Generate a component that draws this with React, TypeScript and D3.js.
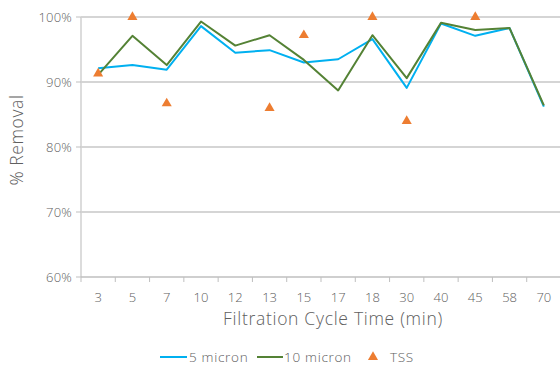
import React from "react";
import * as d3 from "d3";

const categories = ["3", "5", "7", "10", "12", "13", "15", "17", "18", "30", "40", "45", "58", "70"];
const micron5 = [92.1, 92.6, 91.9, 98.6, 94.5, 94.9, 93.0, 93.5, 96.6, 89.1, 99.0, 97.1, 98.3, 86.2];
const micron10 = [91.1, 97.1, 92.6, 99.3, 95.6, 97.2, 93.4, 88.7, 97.2, 90.6, 99.1, 98.0, 98.3, 86.4];
const tss: (number | null)[] = [91.3, 100, 86.7, null, null, 86.0, 97.2, null, 100, 84.0, null, 100, null, null];
const yTicks = [60, 70, 80, 90, 100];

const W = 560;
const H = 367;
const M = { left: 81, right: 561, top: 17, bottom: 277 };
const FONT = "'Open Sans', Lato, sans-serif";
const TEXT = "#606060";

export default function App() {
  const x = d3.scaleBand<string>().domain(categories).range([M.left, M.right]);
  const y = d3.scaleLinear().domain([60, 100]).range([M.bottom, M.top]);
  const cx = (c: string) => (x(c) ?? 0) + x.bandwidth() / 2;

  const line = d3
    .line<number>()
    .x((_, i) => cx(categories[i]))
    .y((v) => y(v));

  const tri = d3.symbol().type(d3.symbolTriangle).size(44)();

  return (
    <svg width={W} height={H} style={{ position: "absolute", left: 0, top: 0 }} fontFamily={FONT} fontWeight={300}>
      {/* gridlines */}
      {yTicks.slice(1).map((t) => (
        <line key={t} x1={M.left} x2={M.right} y1={y(t)} y2={y(t)} stroke="#ABABAB" strokeWidth={1} />
      ))}
      {/* y axis */}
      <line x1={M.left} x2={M.left} y1={M.top} y2={M.bottom} stroke="#D0D0D0" strokeWidth={1.5} />
      {yTicks.map((t) => (
        <g key={t}>
          <line x1={M.left - 5} x2={M.left} y1={y(t)} y2={y(t)} stroke="#BFBFBF" />
          <text x={72} y={y(t)} dy="0.35em" textAnchor="end" fontSize={13} letterSpacing={0.2} fill={TEXT}>
            {t}%
          </text>
        </g>
      ))}
      {/* x axis */}
      <line x1={M.left} x2={M.right} y1={M.bottom} y2={M.bottom} stroke="#BFBFBF" strokeWidth={1.5} />
      {categories.map((c) => (
        <line key={"t" + c} x1={x(c)} x2={x(c)} y1={M.bottom} y2={M.bottom + 5} stroke="#BFBFBF" />
      ))}
      {categories.map((c) => (
        <text key={c} x={cx(c)} y={297} dy="0.35em" textAnchor="middle" fontSize={13} fill={TEXT}>
          {c}
        </text>
      ))}
      <text x={333} y={319} dy="0.35em" textAnchor="middle" fontSize={17.5} letterSpacing={0.7} fill={TEXT}>
        Filtration Cycle Time (min)
      </text>
      <text
        transform={`translate(17,140) rotate(-90)`}
        dy="0.35em"
        textAnchor="middle"
        fontSize={17.5}
        letterSpacing={0.6}
        fill={TEXT}
      >
        % Removal
      </text>

      {/* series */}
      <path d={line(micron5) ?? ""} fill="none" stroke="#00B0F0" strokeWidth={2} strokeLinejoin="round" />
      <path d={line(micron10) ?? ""} fill="none" stroke="#548235" strokeWidth={2} strokeLinejoin="round" />
      {tss.map((v, i) =>
        v == null ? null : (
          <path key={"s" + i} d={tri ?? ""} transform={`translate(${cx(categories[i])},${y(v)})`} fill="#ED7D31" />
        )
      )}

      {/* legend */}
      <line x1={160} x2={187} y1={357} y2={357} stroke="#00B0F0" strokeWidth={2} />
      <text x={189} y={357} dy="0.35em" fontSize={13.5} letterSpacing={0.7} fill={TEXT}>5 micron</text>
      <line x1={257} x2={283} y1={357} y2={357} stroke="#548235" strokeWidth={2} />
      <text x={284} y={357} dy="0.35em" fontSize={13.5} letterSpacing={0.7} fill={TEXT}>10 micron</text>
      <path d={tri ?? ""} transform="translate(373,357)" fill="#ED7D31" />
      <text x={390} y={357} dy="0.35em" fontSize={13.5} letterSpacing={0.7} fill={TEXT}>TSS</text>
    </svg>
  );
}
